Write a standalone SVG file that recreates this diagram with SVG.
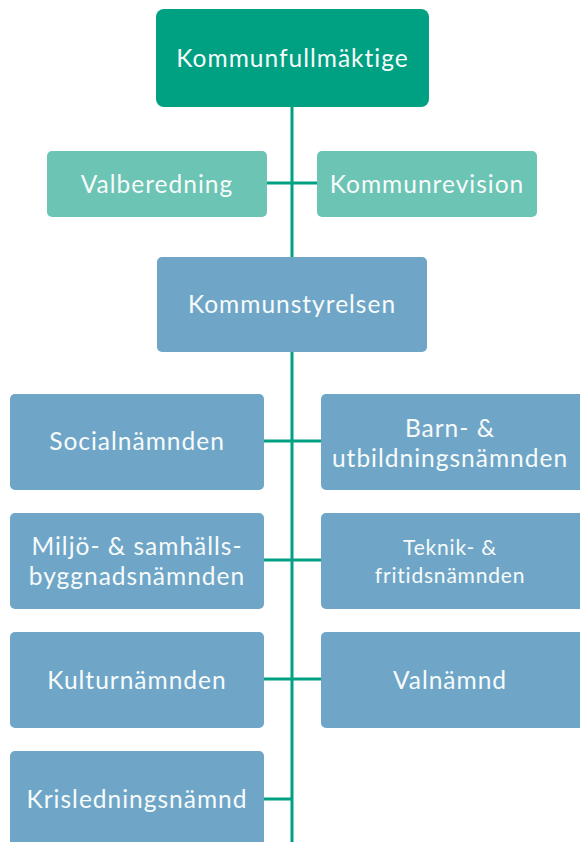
<svg xmlns="http://www.w3.org/2000/svg" width="580" height="842" viewBox="0 0 580 842">
<style>
.dk{fill:#00a082}
.lt{fill:#6cc4b4}
.bl{fill:#6fa6c8}
text{font-family:Lato,"Open Sans",sans-serif;font-size:24.5px;fill:#f7fbfa;text-anchor:middle;letter-spacing:1px}
.sm{font-size:21px;letter-spacing:0.8px}
.ln{stroke:#00a082;stroke-width:3;fill:none}
</style>
<rect width="580" height="842" fill="#ffffff"/>
<g id="connectors">
<line class="ln" x1="292" y1="100" x2="292" y2="842"/>
<line class="ln" x1="262" y1="183" x2="320" y2="183"/>
<line class="ln" x1="260" y1="441" x2="325" y2="441"/>
<line class="ln" x1="260" y1="560" x2="325" y2="560"/>
<line class="ln" x1="260" y1="679" x2="325" y2="679"/>
<line class="ln" x1="260" y1="799" x2="292" y2="799"/>
</g>
<g id="kommunfullmaktige"><rect class="dk" x="156" y="9" width="273" height="98" rx="8"/><text x="292.5" y="67">Kommunfullmäktige</text></g>
<g id="valberedning"><rect class="lt" x="47" y="151" width="220" height="66" rx="5"/><text x="157" y="193">Valberedning</text></g>
<g id="kommunrevision"><rect class="lt" x="317" y="151" width="220" height="66" rx="5"/><text x="427" y="193">Kommunrevision</text></g>
<g id="kommunstyrelsen"><rect class="bl" x="157" y="257" width="270" height="95" rx="5"/><text x="292" y="313">Kommunstyrelsen</text></g>
<g id="socialnamnden"><rect class="bl" x="10" y="394" width="254" height="96" rx="5"/><text x="137" y="450">Socialnämnden</text></g>
<g id="barn"><rect class="bl" x="321" y="394" width="264" height="96" rx="5"/><text x="450" y="437">Barn- &amp;</text><text x="450" y="467">utbildningsnämnden</text></g>
<g id="miljo"><rect class="bl" x="10" y="513" width="254" height="96" rx="5"/><text x="137" y="555">Miljö- &amp; samhälls-</text><text x="137" y="585">byggnadsnämnden</text></g>
<g id="teknik"><rect class="bl" x="321" y="513" width="264" height="96" rx="5"/><text class="sm" x="450" y="555">Teknik- &amp;</text><text class="sm" x="450" y="583">fritidsnämnden</text></g>
<g id="kulturnamnden"><rect class="bl" x="10" y="632" width="254" height="96" rx="5"/><text x="137" y="689">Kulturnämnden</text></g>
<g id="valnamnd"><rect class="bl" x="321" y="632" width="264" height="96" rx="5"/><text x="450" y="689">Valnämnd</text></g>
<g id="krisledningsnamnd"><rect class="bl" x="10" y="751" width="254" height="100" rx="5"/><text x="137" y="808">Krisledningsnämnd</text></g>
</svg>
